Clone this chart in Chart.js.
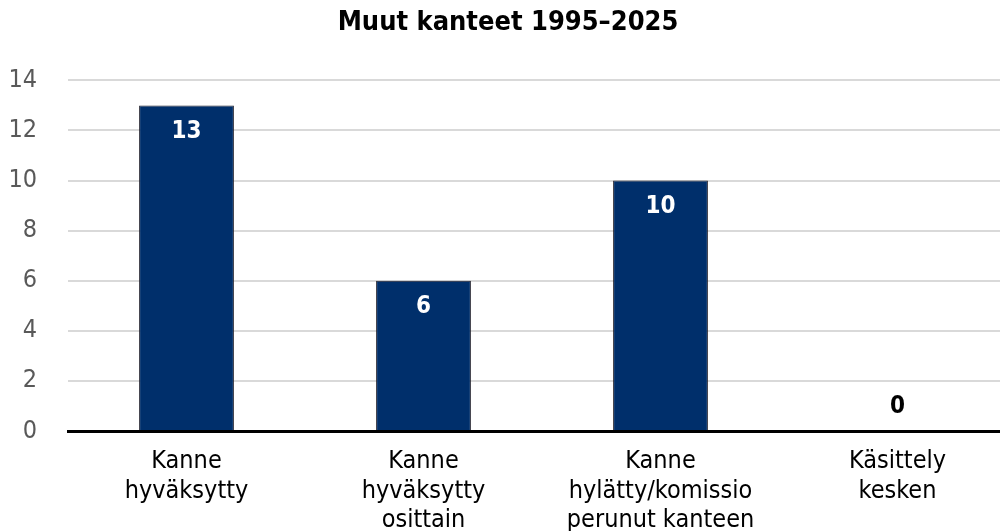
<!DOCTYPE html>
<html>
<head>
<meta charset="utf-8">
<script src="https://cdn.jsdelivr.net/npm/chart.js@4/dist/chart.umd.min.js"></script>
<style>
html,body{margin:0;padding:0;background:#fff;overflow:hidden;}
#wrap{width:1000px;height:531px;overflow:hidden;}
</style>
</head>
<body>
<div id="wrap"><canvas id="c" width="1016" height="531"></canvas></div>
<script>
const categories = [
  ["Kanne", "hyväksytty"],
  ["Kanne", "hyväksytty", "osittain"],
  ["Kanne", "hylätty/komissio", "perunut kanteen"],
  ["Käsittely", "kesken"]
];
const values = [13, 6, 10, 0];
const yTicks = [0, 2, 4, 6, 8, 10, 12, 14];
const titleText = "Muut kanteet 1995–2025";

const FONT = "'Liberation Sans Narrow', 'DejaVu Sans Condensed', 'Roboto', sans-serif";

const labelPlugin = {
  id: 'valueLabels',
  afterDatasetsDraw(chart) {
    const ctx = chart.ctx;
    const meta = chart.getDatasetMeta(0);
    ctx.save();
    ctx.font = "bold 24px " + FONT;
    ctx.textAlign = 'center';
    ctx.textBaseline = 'middle';
    meta.data.forEach((bar, i) => {
      const v = values[i];
      if (v > 0) {
        ctx.fillStyle = '#ffffff';
        ctx.fillText(String(v), bar.x, bar.y + 26);
      } else {
        ctx.fillStyle = '#000000';
        ctx.fillText(String(v), bar.x, bar.y - 24);
      }
    });
    ctx.restore();
  }
};

new Chart(document.getElementById('c'), {
  type: 'bar',
  data: {
    labels: categories,
    datasets: [{
      data: values,
      backgroundColor: '#002f6b',
      borderColor: '#1c1c28',
      borderWidth: 1,
      barPercentage: 0.40,
      categoryPercentage: 1.0
    }]
  },
  options: {
    responsive: false,
    animation: false,
    layout: { padding: { left: 0, right: 0, top: 0, bottom: 0 } },
    plugins: {
      legend: { display: false },
      tooltip: { enabled: false },
      title: {
        display: true,
        text: titleText,
        color: '#000',
        font: { family: FONT, size: 27, weight: 'bold', lineHeight: 1.2 },
        padding: { top: 7, bottom: 41 }
      }
    },
    scales: {
      x: {
        grid: { display: false, drawTicks: false },
        border: { display: true, color: '#000', width: 3 },
        ticks: {
          color: '#000',
          font: { family: FONT, size: 25, lineHeight: 1.18 },
          padding: 16,
          maxRotation: 0,
          autoSkip: false
        },
        afterFit(scale) { scale.height = 100; }
      },
      y: {
        min: 0,
        max: 14,
        afterBuildTicks(scale) { scale.ticks = yTicks.map(v => ({ value: v })); },
        grid: { color: '#d9d9d9', lineWidth: 2, drawTicks: false },
        border: { display: false },
        ticks: {
          color: '#595959',
          font: { family: FONT, size: 25 },
          padding: 31
        },
        afterFit(scale) { scale.width = 68; }
      }
    }
  },
  plugins: [labelPlugin]
});
</script>
</body>
</html>
